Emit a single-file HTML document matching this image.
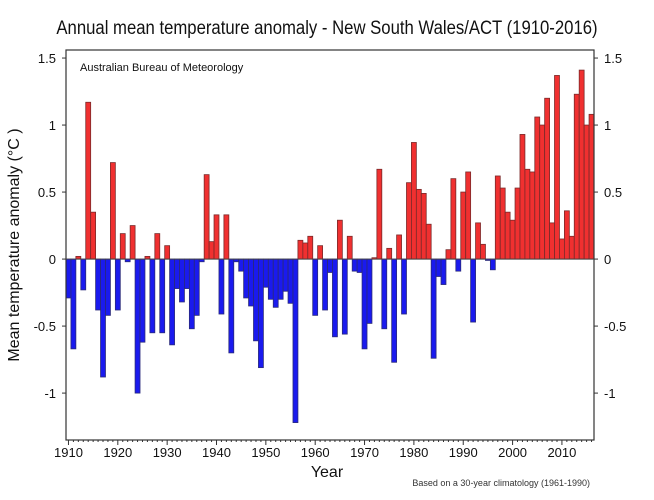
<!DOCTYPE html>
<html><head><meta charset="utf-8"><style>
body{margin:0;background:#fff;width:654px;height:500px;overflow:hidden}
svg{display:block;font-family:"Liberation Sans",sans-serif}
</style></head><body>
<svg id="chart" width="654" height="500">
<text x="327" y="34" text-anchor="middle" font-size="19" fill="#111" transform="translate(327,0) scale(0.88,1) translate(-327,0)">Annual mean temperature anomaly - New South Wales/ACT (1910-2016)</text>
<text x="80" y="71" font-size="11" fill="#111">Australian Bureau of Meteorology</text>
<text x="590" y="486" text-anchor="end" font-size="9" fill="#333">Based on a 30-year climatology (1961-1990)</text>
<text x="327" y="477" text-anchor="middle" font-size="16" fill="#111">Year</text>
<text transform="translate(19,245) rotate(-90)" text-anchor="middle" font-size="16" fill="#111">Mean temperature anomaly (°C )</text>
<g id="bars"></g>
<g id="axes"></g>
</svg>
<script>
const years=[];for(let y=1910;y<=2016;y++)years.push(y);
const anomalies=[-0.29,-0.67,0.02,-0.23,1.17,0.35,-0.38,-0.88,-0.42,0.72,
-0.38,0.19,-0.02,0.25,-1.0,-0.62,0.02,-0.55,0.19,-0.55,
0.10,-0.64,-0.22,-0.32,-0.22,-0.52,-0.42,-0.02,0.63,0.13,
0.33,-0.41,0.33,-0.70,-0.02,-0.09,-0.29,-0.35,-0.61,-0.81,
-0.21,-0.30,-0.36,-0.30,-0.24,-0.33,-1.22,0.14,0.12,0.17,
-0.42,0.10,-0.38,-0.10,-0.58,0.29,-0.56,0.17,-0.09,-0.10,
-0.67,-0.48,0.01,0.67,-0.52,0.08,-0.77,0.18,-0.41,0.57,
0.87,0.52,0.49,0.26,-0.74,-0.13,-0.19,0.07,0.60,-0.09,
0.50,0.65,-0.47,0.27,0.11,-0.01,-0.08,0.62,0.53,0.35,
0.29,0.53,0.93,0.67,0.65,1.06,1.00,1.20,0.27,1.37,
0.15,0.36,0.17,1.23,1.41,1.00,1.08];
const yTicks=[-1,-0.5,0,0.5,1,1.5];
const yTickLabels=["-1","-0.5","0","0.5","1","1.5"];
const xTicks=[1910,1920,1930,1940,1950,1960,1970,1980,1990,2000,2010];
const L=66,R=594,T=50,B=440,yMin=-1.35,yMax=1.56,xMin=1909.5,xMax=2016.5;
const sx=v=>L+(v-xMin)/(xMax-xMin)*(R-L);
const sy=v=>B-(v-yMin)/(yMax-yMin)*(B-T);
const NS="http://www.w3.org/2000/svg";
const bars=document.getElementById('bars'),axes=document.getElementById('axes');
function mk(tag,at,parent){const e=document.createElementNS(NS,tag);for(const k in at)e.setAttribute(k,at[k]);parent.appendChild(e);return e;}
years.forEach((yr,i)=>{const v=anomalies[i];const x0=sx(yr-0.5),x1=sx(yr+0.5);
const y0=sy(Math.max(v,0)),y1=sy(Math.min(v,0));
const r=mk('rect',{x:x0,y:y0,width:x1-x0,height:Math.max(y1-y0,0.5),fill:v>=0?'#f03030':'#1a1aee',stroke:v>=0?'#7a2a2a':'#2a2a7a','stroke-width':0.8},bars);

});
const fr=mk('rect',{x:L,y:T,width:R-L,height:B-T,fill:'none',stroke:'#333','stroke-width':1.2},axes);


const zl=mk('line',{x1:L,x2:R,y1:sy(0),y2:sy(0),stroke:'#444','stroke-width':1},axes);


yTicks.forEach((t,i)=>{const y=sy(t);
mk('line',{x1:L-4,x2:L,y1:y,y2:y,stroke:'#333'},axes);
mk('line',{x1:R,x2:R+4,y1:y,y2:y,stroke:'#333'},axes);
const a=mk('text',{x:L-10,y:y+5,'text-anchor':'end','font-size':13,fill:'#111'},axes);a.textContent=yTickLabels[i];


const b=mk('text',{x:R+10,y:y+5,'font-size':13,fill:'#111'},axes);b.textContent=yTickLabels[i];

});
years.forEach(yr=>{const x=sx(yr);const big=yr%10===0;mk('line',{x1:x,x2:x,y1:B,y2:B+(big?5:2),stroke:'#333'},axes);});
xTicks.forEach(t=>{const e=mk('text',{x:sx(t),y:B+17,'text-anchor':'middle','font-size':13,fill:'#111'},axes);e.textContent=t;

});
</script>
</body></html>
